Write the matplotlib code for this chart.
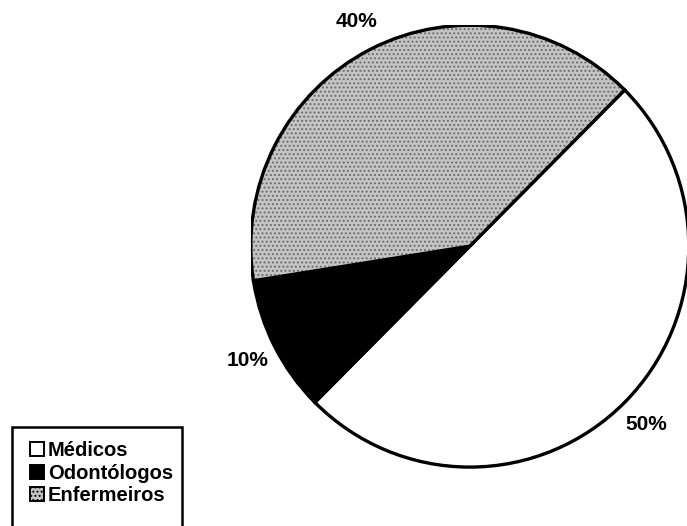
import matplotlib
matplotlib.use("Agg")
import matplotlib.pyplot as plt
import matplotlib.patches as mpatches

plt.rcParams.update({
    "font.family": ["Liberation Sans", "DejaVu Sans"],
    "font.weight": "bold",
    "hatch.linewidth": 0.9,
})

# ── data ──────────────────────────────────────────────────────────────────────
categories = ["Médicos", "Odontólogos", "Enfermeiros"]
shares = [50, 10, 40]
fills = ["white", "black", "#c4c4c4"]
hatches = [None, None, "...."]

fig = plt.figure(figsize=(6.87, 5.26), dpi=100)
ax = fig.add_axes([0.365, 0.112, 0.6376, 0.840])

wedges, _, autotexts = ax.pie(
    shares, colors=fills, startangle=45, counterclock=False,
    autopct="%d%%", pctdistance=1.14, radius=1.0,
    wedgeprops=dict(edgecolor="black", linewidth=2.4),
)
for w, h in zip(wedges, hatches):
    if h:
        w.set_hatch(h)
        w.set_edgecolor("#6a6a6a")
        w.set_linewidth(0)
# outline of the hatched wedge in black
for w, h in zip(wedges, hatches):
    if h:
        outline = mpatches.Wedge(w.center, w.r, w.theta1, w.theta2,
                                 fill=False, edgecolor="black", linewidth=2.4)
        ax.add_patch(outline)

for t in autotexts:
    t.set_fontsize(15)
    t.set_fontweight("bold")
    t.set_clip_on(False)

ax.set_xlim(-1, 1)
ax.set_ylim(-1, 1)
ax.set_aspect("auto")
ax.axis("off")

# ── legend ────────────────────────────────────────────────────────────────────
handles = []
for c, f, h in zip(categories, fills, hatches):
    p = mpatches.Patch(facecolor=f, edgecolor="black", linewidth=1.4,
                       hatch=h, label=c)
    handles.append(p)

leg = fig.legend(handles=handles, loc="upper left",
                 bbox_to_anchor=(0.024, 1 - 428 / 526),
                 frameon=False, fontsize=14.5,
                 handlelength=0.7, handleheight=0.7, handletextpad=0.2,
                 labelspacing=0.18, borderpad=0.15)
for t in leg.get_texts():
    t.set_fontweight("bold")

frame = mpatches.Rectangle((12 / 687, -0.02), 170 / 687, 0.02 + 99 / 526,
                           transform=fig.transFigure, fill=False,
                           edgecolor="black", linewidth=1.8)
fig.add_artist(frame)

fig.savefig("out.png", dpi=100)
